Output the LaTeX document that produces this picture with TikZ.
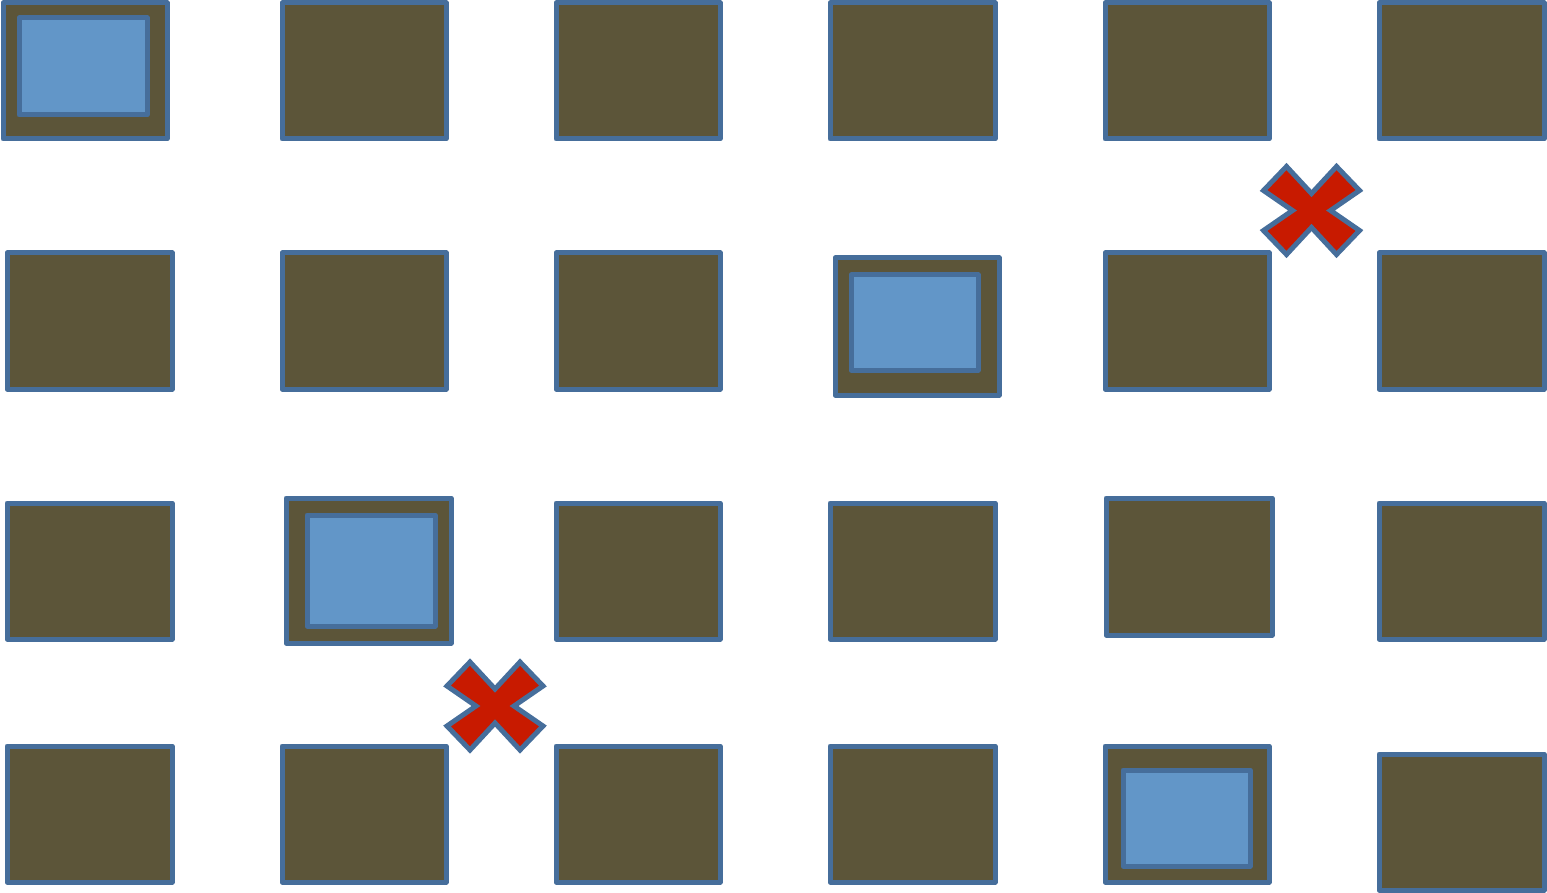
\documentclass[tikz,border=0pt]{standalone}
\definecolor{boxfill}{HTML}{5C5539}
\definecolor{edgeblue}{HTML}{466E9B}
\definecolor{innerblue}{HTML}{6296C8}
\definecolor{crossred}{HTML}{C81A00}
\tikzset{
  outerbox/.style={draw=edgeblue, fill=boxfill, line width=5pt, line join=round},
  innerbox/.style={draw=edgeblue, fill=innerblue, line width=5pt, line join=round},
  crossmark/.style={draw=edgeblue, fill=crossred, line width=5pt, line join=miter},
}
\newcommand{\crossat}[2]{%
  \draw[crossmark] (#1-25,#2-44) -- (#1,#2-17) -- (#1+25,#2-44) -- (#1+48,#2-20) -- (#1+19,#2) -- (#1+48,#2+20) -- (#1+25,#2+44) -- (#1,#2+17) -- (#1-25,#2+44) -- (#1-48,#2+20) -- (#1-19,#2) -- (#1-48,#2-20) -- cycle;}
\begin{document}
\begin{tikzpicture}[x=1pt,y=-1pt]
\useasboundingbox (0,0) rectangle (1547,893);
% row 1
\draw[outerbox] (3,3) rectangle (167,139);
\draw[innerbox] (19,18) rectangle (147,115);
\draw[outerbox] (282,3) rectangle (446,139);
\draw[outerbox] (556,3) rectangle (720,139);
\draw[outerbox] (830,3) rectangle (995,139);
\draw[outerbox] (1105,3) rectangle (1269,139);
\draw[outerbox] (1379,3) rectangle (1544,139);
% row 2
\draw[outerbox] (7,253) rectangle (172,389);
\draw[outerbox] (282,253) rectangle (446,389);
\draw[outerbox] (556,253) rectangle (720,389);
\draw[outerbox] (835,258) rectangle (999,395);
\draw[innerbox] (851,275) rectangle (978,370);
\draw[outerbox] (1105,253) rectangle (1269,389);
\draw[outerbox] (1379,253) rectangle (1544,389);
% row 3
\draw[outerbox] (7,503) rectangle (172,639);
\draw[outerbox] (286,498) rectangle (451,643);
\draw[innerbox] (307,515) rectangle (435,626);
\draw[outerbox] (556,503) rectangle (720,639);
\draw[outerbox] (830,503) rectangle (995,639);
\draw[outerbox] (1106,498) rectangle (1272,635);
\draw[outerbox] (1379,503) rectangle (1544,639);
% row 4
\draw[outerbox] (7,746) rectangle (172,882);
\draw[outerbox] (282,746) rectangle (446,882);
\draw[outerbox] (556,746) rectangle (720,882);
\draw[outerbox] (830,746) rectangle (995,882);
\draw[outerbox] (1105,746) rectangle (1269,882);
\draw[innerbox] (1123,770) rectangle (1250,866);
\draw[outerbox] (1379,754) rectangle (1544,890);
% crosses
\crossat{1311.5}{210.5}
\crossat{495}{706}
\end{tikzpicture}
\end{document}
